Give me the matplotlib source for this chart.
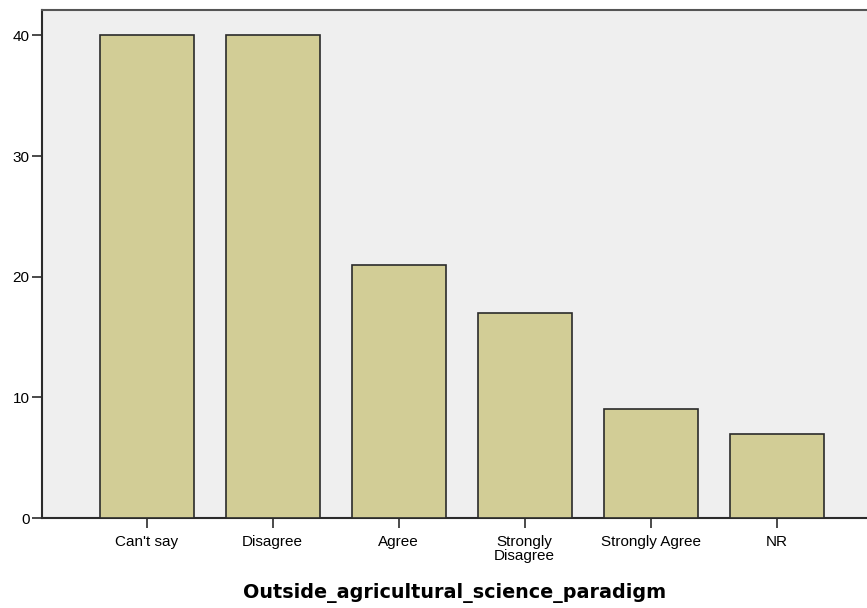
import matplotlib
matplotlib.use("Agg")
import matplotlib.pyplot as plt

categories = ["Can't say", "Disagree", "Agree", "Strongly\nDisagree", "Strongly Agree", "NR"]
counts = [40, 40, 21, 17, 9, 7]
yticks = [0, 10, 20, 30, 40]
xlabel = "Outside_agricultural_science_paradigm"

fig = plt.figure(figsize=(8.67, 6.08), dpi=100)
ax = fig.add_axes([42/867, 1-518/608, 1-42/867, (518-10)/608])
ax.set_facecolor("#EFEFEF")

x = list(range(len(categories)))
ax.bar(x, counts, width=0.746, color="#D2CD96", edgecolor="#2b2b2b", linewidth=1.2, zorder=3)

ax.set_xlim(-0.831, 5.717)
ax.set_ylim(0, 42.1)
ax.set_yticks(yticks)
ax.set_xticks(x)
ax.set_xticklabels(categories, fontsize=11, family="Liberation Sans", linespacing=1.05)
for lab in ax.get_yticklabels():
    lab.set_fontsize(11)
    lab.set_family("Liberation Sans")
ax.tick_params(axis="x", length=7, width=1.2, pad=5, color="#2b2b2b")
ax.tick_params(axis="y", length=7, width=1.2, pad=2, color="#2b2b2b")

for s in ["left", "bottom"]:
    ax.spines[s].set_linewidth(1.5)
    ax.spines[s].set_color("#2b2b2b")
ax.spines["top"].set_linewidth(1.5)
ax.spines["top"].set_color("#555555")
ax.spines["right"].set_visible(False)

ax.set_xlabel(xlabel, fontsize=13.8, fontweight="bold", family="DejaVu Sans", labelpad=14)

fig.savefig("out.png", dpi=100)
